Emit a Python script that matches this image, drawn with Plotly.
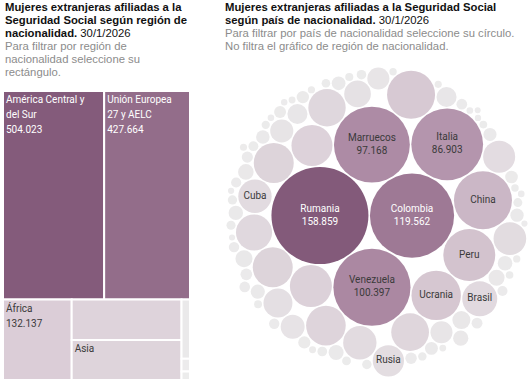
import numpy as np
import plotly.graph_objects as go

# ---------------- DATA ----------------
# Treemap: women affiliated by region of nationality (30/1/2026)
region_names = ["América Central y del Sur", "Unión Europea 27 y AELC", "África",
                "Resto de Europa", "Asia", "América del Norte", "Apátrida / No consta", "Oceanía"]
region_wrapped = ["América Central y<br>del Sur", "Unión Europea<br>27 y AELC", "África",
                  "Resto de Europa", "Asia", "América del Norte", "No consta", "Oceanía"]
region_values = [504023, 427664, 132137, 106500, 104800, 12000, 2600, 1700]
region_show = ["name_value", "name_value", "name_value", "none", "name", "none", "none", "none"]

# Packed bubbles: women affiliated by country of nationality
country_names = [
    "Rumania", "Colombia", "Venezuela", "Marruecos", "Italia", "China", "Peru", "Ucrania",
    "Brasil", "Rusia", "Cuba",
    "Honduras", "Ecuador", "Bulgaria", "Reino Unido", "Paraguay", "Argentina", "Portugal",
    "Bolivia", "Nicaragua", "Francia", "República Dominicana", "Alemania", "Filipinas",
    "Senegal", "Georgia", "Polonia", "Países Bajos", "México", "Chile", "Uruguay", "Bélgica",
    "Estados Unidos", "Pakistán",
    "India", "Nigeria", "El Salvador", "Guatemala", "Moldavia", "Argelia", "Lituania",
    "Armenia", "Hungría", "Irlanda", "Suecia", "Grecia", "Eslovaquia", "República Checa",
    "Austria", "Letonia", "Guinea Ecuatorial", "Japón", "Vietnam", "Camerún", "Bielorrusia",
    "Costa Rica", "Panamá", "Dinamarca", "Finlandia", "Croacia", "Turquía", "Corea del Sur",
    "Serbia", "Gambia", "Ghana", "Mali", "Tailandia", "Canadá", "Suiza", "Noruega", "Albania",
    "Irán", "Kazajistán", "Indonesia", "Estonia", "Eslovenia", "Túnez", "Líbano", "Siria",
    "Bangladesh", "Nepal", "Guinea", "Mauritania", "Australia", "Egipto", "Israel",
    "Costa de Marfil", "Kenia", "Chipre", "Luxemburgo", "Malta", "Bosnia y Herzegovina",
]
country_values = [
    158859, 119562, 100397, 97168, 86903, 56800, 45600, 41200,
    20700, 16500, 18800,
    38900, 29800, 28400, 27000, 27000, 26500, 24000,
    23600, 22000, 18800, 18000, 17300, 14200,
    12000, 9700, 9000, 8200, 8200, 6800, 6800, 5500,
    4900, 4300,
    4100, 3900, 3800, 3600, 3500, 3400, 3200,
    3100, 3000, 2900, 2800, 2700, 2600, 2500,
    2400, 2300, 2200, 2100, 2000, 1950, 1900,
    1850, 1800, 1750, 1700, 1650, 1600, 1550,
    1500, 1450, 1400, 1350, 1300, 1250, 1200, 1150, 1100,
    1050, 1000, 980, 950, 920, 900, 880, 860,
    840, 820, 800, 780, 760, 740, 720,
    700, 680, 660, 640, 620, 600,
]
labeled_with_value = ["Rumania", "Colombia", "Venezuela", "Marruecos", "Italia"]
labeled_name_only = ["China", "Peru", "Ucrania", "Brasil", "Rusia", "Cuba"]
white_text = ["Rumania", "Colombia"]

# ---------------- STYLE ----------------
FONT = "Roboto"
TITLE_FONT = "Liberation Sans"
W, H = 532, 380
bubble_scale = 3.848 / np.sqrt(1000.0)   # px radius per sqrt(unit)
bubble_center = (377.0, 222.0)
bubble_pad = 1.5
# points the front chain grows around (layout units): early circles, then the rest
pack_target_early = (50.0, -10.0)
pack_target_late = (13.0, 3.0)
pack_switch = 8

treemap_colorscale = [[0, "#ececec"], [0.3, "#d8c9d4"], [0.7, "#a27e99"], [1, "#845b7b"]]
bubble_colorscale = [[0, "#ececec"], [0.3, "#d2c1cd"], [0.6, "#ae8ca6"], [1, "#835a7a"]]


# ---------- circle packing (front-chain) ----------
class _Node:
    __slots__ = ("c", "next", "prev")

    def __init__(self, c):
        self.c = c
        self.next = None
        self.prev = None


def _place(b, a, c):
    dx = b[0] - a[0]
    dy = b[1] - a[1]
    d2 = dx * dx + dy * dy
    if d2:
        a2 = (a[2] + c[2]) ** 2
        b2 = (b[2] + c[2]) ** 2
        if a2 > b2:
            x = (d2 + b2 - a2) / (2 * d2)
            y = np.sqrt(max(0.0, b2 / d2 - x * x))
            c[0] = b[0] - x * dx - y * dy
            c[1] = b[1] - x * dy + y * dx
        else:
            x = (d2 + a2 - b2) / (2 * d2)
            y = np.sqrt(max(0.0, a2 / d2 - x * x))
            c[0] = a[0] + x * dx - y * dy
            c[1] = a[1] + x * dy + y * dx
    else:
        c[0] = a[0] + c[2]
        c[1] = a[1]


def _intersects(a, b):
    dr = a[2] + b[2] - 1e-6
    dx = b[0] - a[0]
    dy = b[1] - a[1]
    return dr > 0 and dr * dr > dx * dx + dy * dy


def _score(node, tx, ty):
    a = node.c
    b = node.next.c
    ab = a[2] + b[2]
    dx = (a[0] * b[2] + b[0] * a[2]) / ab - tx
    dy = (a[1] * b[2] + b[1] * a[2]) / ab - ty
    return dx * dx + dy * dy


def pack_siblings(radii, target_early, target_late, switch):
    circles = [[0.0, 0.0, float(r)] for r in radii]
    n = len(circles)
    a = circles[0]
    if n > 1:
        b = circles[1]
        a[0] = -b[2]
        b[0] = a[2]
        b[1] = 0.0
    if n > 2:
        c = circles[2]
        _place(b, a, c)
        a, b, c = _Node(a), _Node(b), _Node(c)
        a.next = c.prev = b
        b.next = a.prev = c
        c.next = b.prev = a
        i = 3
        while i < n:
            cc = circles[i]
            _place(a.c, b.c, cc)
            c = _Node(cc)
            j, k = b.next, a.prev
            sj, sk = b.c[2], a.c[2]
            restart = False
            while True:
                if sj <= sk:
                    if _intersects(j.c, c.c):
                        b = j
                        a.next = b
                        b.prev = a
                        restart = True
                        break
                    sj += j.c[2]
                    j = j.next
                else:
                    if _intersects(k.c, c.c):
                        a = k
                        a.next = b
                        b.prev = a
                        restart = True
                        break
                    sk += k.c[2]
                    k = k.prev
                if j is k.next:
                    break
            if restart:
                continue
            c.prev = a
            c.next = b
            a.next = c
            b.prev = c
            tx, ty = target_early if i < switch else target_late
            # choose the chain pair closest to the target (every pair evaluated)
            start = a
            best, bests = a, _score(a, tx, ty)
            node = a.next
            while node is not start:
                s = _score(node, tx, ty)
                if s < bests:
                    best, bests = node, s
                node = node.next
            a = best
            b = a.next
            i += 1
    return np.array([c[0] for c in circles]), np.array([c[1] for c in circles])


# sort bubbles by value (descending) and pack
vals = np.array(country_values, dtype=float)
order = np.argsort(-vals, kind="stable")
names_sorted = [country_names[i] for i in order]
vals_sorted = vals[order]
radii = bubble_scale * np.sqrt(vals_sorted)
bx, by = pack_siblings(radii + bubble_pad / 2, pack_target_early, pack_target_late, pack_switch)
minx, maxx = np.min(bx - radii), np.max(bx + radii)
miny, maxy = np.min(by - radii), np.max(by + radii)
bx = bx - (minx + maxx) / 2 + bubble_center[0]
by = by - (miny + maxy) / 2 + bubble_center[1]

bubble_text = []
bubble_text_color = []
for nm, v in zip(names_sorted, vals_sorted):
    if nm in labeled_with_value:
        bubble_text.append(f"{nm}<br>{int(v):,}".replace(",", "."))
    elif nm in labeled_name_only:
        bubble_text.append(nm)
    else:
        bubble_text.append("")
    bubble_text_color.append("white" if nm in white_text else "#3a3a3a")

# treemap text templates (small spans inside a larger base font -> wider line spacing)
tm_templates = []
tm_text_colors = []
for show, v in zip(region_show, region_values):
    if show == "name_value":
        tm_templates.append("<span style='font-size:10px'>%{text}<br>%{value:,.0f}</span>")
    elif show == "name":
        tm_templates.append("<span style='font-size:10px'>%{text}</span>")
    else:
        tm_templates.append(" ")
    tm_text_colors.append("white" if v > 300000 else "#3a3a3a")

fig = go.Figure()

fig.add_trace(go.Treemap(
    labels=region_names,
    parents=[""] * len(region_names),
    values=region_values,
    text=region_wrapped,
    texttemplate=tm_templates,
    textposition="top left",
    textfont=dict(family=FONT, size=11.5, color=tm_text_colors),
    marker=dict(colors=region_values, colorscale=treemap_colorscale, cmin=0,
                cmax=max(region_values), line=dict(color="white", width=2), showscale=False,
                pad=dict(t=0, l=0, r=0, b=0)),
    root=dict(color="white"),
    tiling=dict(squarifyratio=1.618, pad=0),
    pathbar=dict(visible=False),
    sort=True,
    hovertemplate="%{label}<br>%{value:,.0f}<extra></extra>",
    domain=dict(x=[3 / W, 190 / W], y=[0, 1 - 91 / H]),
))

fig.add_trace(go.Scatter(
    x=bx, y=by,
    mode="markers+text",
    marker=dict(size=2 * radii, sizemode="diameter", sizeref=1,
                color=vals_sorted, colorscale=bubble_colorscale, cmin=0,
                cmax=float(vals_sorted.max()), showscale=False, line=dict(width=0),
                opacity=1),
    text=bubble_text,
    textposition="middle center",
    textfont=dict(family=FONT, size=10, color=bubble_text_color),
    customdata=names_sorted,
    hovertemplate="%{customdata}<br>%{marker.color:,.0f}<extra></extra>",
    showlegend=False,
))

# titles
TITLE_COLOR = "#111111"
SUB_COLOR = "#8c8c8c"
lines = [
    (3, 7, "<b>Mujeres extranjeras afiliadas a la</b>", TITLE_COLOR),
    (3, 20, "<b>Seguridad Social según región de</b>", TITLE_COLOR),
    (3, 33, "<b>nacionalidad.</b> 30/1/2026", TITLE_COLOR),
    (3, 46, "Para filtrar por región de", SUB_COLOR),
    (3, 59, "nacionalidad seleccione su", SUB_COLOR),
    (3, 72, "rectángulo.", SUB_COLOR),
    (223, 7, "<b>Mujeres extranjeras afiliadas a la Seguridad Social</b>", TITLE_COLOR),
    (223, 20, "<b>según país de nacionalidad.</b> 30/1/2026", TITLE_COLOR),
    (223, 33, "Para filtrar por país de nacionalidad seleccione su círculo.", SUB_COLOR),
    (223, 46, "No filtra el gráfico de región de nacionalidad.", SUB_COLOR),
]
annotations = [
    dict(x=x / W, y=1 - y / H, xref="paper", yref="paper", xanchor="left", yanchor="middle",
         text=t, showarrow=False, font=dict(family=TITLE_FONT, size=11.3, color=c))
    for x, y, t, c in lines
]

fig.update_layout(
    width=W, height=H,
    margin=dict(l=0, r=0, t=0, b=0),
    paper_bgcolor="white",
    plot_bgcolor="rgba(0,0,0,0)",
    separators=",.",
    xaxis=dict(range=[0, W], domain=[0, 1], visible=False, fixedrange=True),
    yaxis=dict(range=[H, 0], domain=[0, 1], visible=False, fixedrange=True),
    annotations=annotations,
    showlegend=False,
)

fig.write_html("out.html", config={"displayModeBar": False},
               post_script="document.body.style.margin='0';")
